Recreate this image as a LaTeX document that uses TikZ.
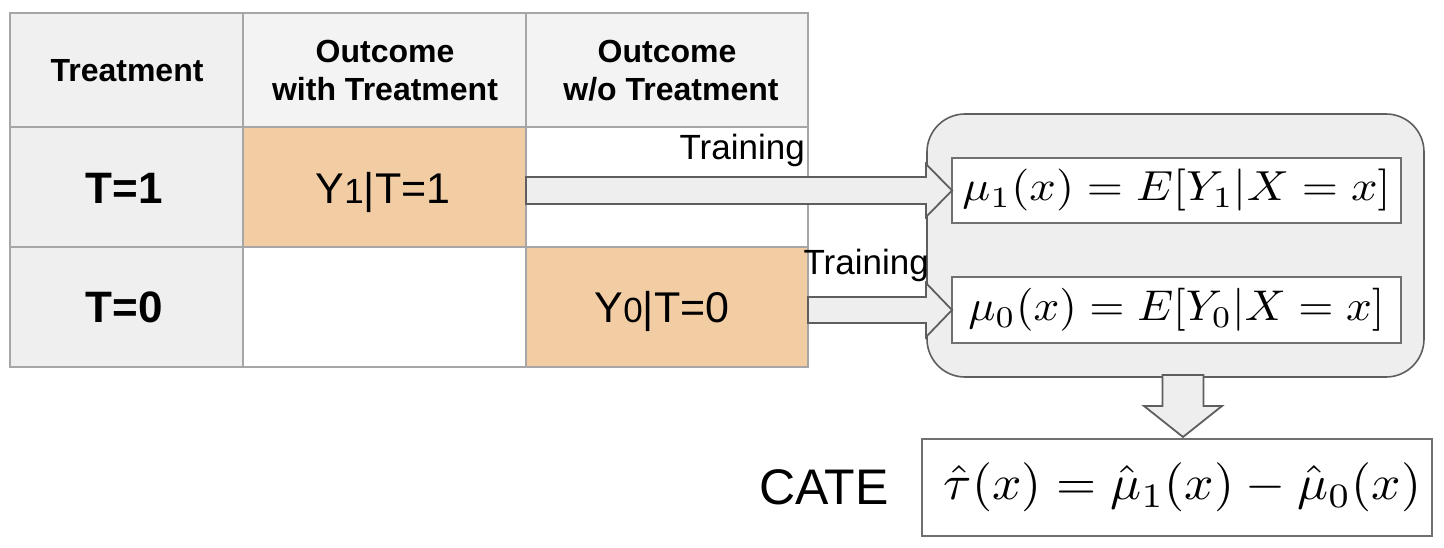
\documentclass[tikz,border=0pt]{standalone}
\usepackage{fontspec}
\setmainfont{Liberation Sans}
\usepackage{graphicx}
\usetikzlibrary{calc}
\definecolor{gridc}{HTML}{A6A6A6}
\definecolor{hdrA}{HTML}{F0F0F0}
\definecolor{hdrB}{HTML}{F3F3F3}
\definecolor{colA}{HTML}{EFEFEF}
\definecolor{orng}{HTML}{F2CDA4}
\definecolor{boxfill}{HTML}{EEEEEE}
\definecolor{boxline}{HTML}{5E5E5E}
\definecolor{eqline}{HTML}{707070}
\tikzset{
  cell/.style={draw=gridc, line width=2pt, inner sep=0pt, outer sep=0pt},
  hdrtxt/.style={font=\fontsize{32}{38}\selectfont\bfseries, inner sep=0pt, anchor=base},
  rowtxt/.style={font=\fontsize{44}{50}\selectfont\bfseries, inner sep=0pt, anchor=base},
  celltxt/.style={font=\fontsize{43}{50}\selectfont, inner sep=0pt, anchor=base},
  lab/.style={font=\fontsize{35}{40}\selectfont, inner sep=0pt},
  container/.style={draw=boxline, fill=boxfill, line width=1.6pt, rounded corners=38pt, inner sep=0pt, outer sep=0pt},
  eqbox/.style={draw=eqline, fill=white, line width=2pt, inner sep=0pt, outer sep=0pt},
  blockarrow/.style={draw=boxline, fill=boxfill, line width=1.8pt, line join=miter},
}
\newcommand{\smallsub}[1]{{\fontsize{35}{40}\selectfont #1}}
\begin{document}
\begin{tikzpicture}[x=1pt,y=-1pt]
\useasboundingbox (0,0) rectangle (1444,548);

% ---- table cells ----
\node[cell, fill=hdrA, minimum width=233, minimum height=114] (h1) at (126.5,70) {};
\node[cell, fill=hdrB, minimum width=283, minimum height=114] (h2) at (384.5,70) {};
\node[cell, fill=hdrB, minimum width=282, minimum height=114] (h3) at (667,70) {};
\node[cell, fill=colA, minimum width=233, minimum height=120] (r1c1) at (126.5,187) {};
\node[cell, fill=orng, minimum width=283, minimum height=120] (r1c2) at (384.5,187) {};
\node[cell, fill=white, minimum width=282, minimum height=120] (r1c3) at (667,187) {};
\node[cell, fill=colA, minimum width=233, minimum height=120] (r2c1) at (126.5,307) {};
\node[cell, fill=white, minimum width=283, minimum height=120] (r2c2) at (384.5,307) {};
\node[cell, fill=orng, minimum width=282, minimum height=120] (r2c3) at (667,307) {};

% ---- table texts ----
\node[hdrtxt] (th1) at (127,82) {Treatment};
\node[hdrtxt] (th2a) at (385,63) {Outcome};
\node[hdrtxt] (th2b) at (385,101) {with Treatment};
\node[hdrtxt] (th3a) at (667,63) {Outcome};
\node[hdrtxt] (th3b) at (671,101) {w/o Treatment};
\node[rowtxt] (tr1c1) at (124,204) {T=1};
\node[rowtxt] (tr2c1) at (124,323) {T=0};
\node[celltxt] (tr1c2) at (383,204) {Y\smallsub{1}|T=1};
\node[celltxt] (tr2c3) at (662,323) {Y\smallsub{0}|T=0};

% ---- container with models ----
\node[container, minimum width=497, minimum height=263] (cont) at (1175.5,245.5) {};
\node[eqbox, minimum width=449, minimum height=65] (mu1) at (1176.5,190.5)
  {\resizebox*{428pt}{42pt}{$\mu_1(x) = E[Y_1|X = x]$}};
\node[eqbox, minimum width=449, minimum height=66] (mu0) at (1176.5,310)
  {\resizebox*{416pt}{43pt}{$\mu_0(x) = E[Y_0|X = x]$}};

% ---- training arrows ----
\draw[blockarrow] let \p1=(mu1.west), \p2=(r1c2.east) in
  (\x2,\y1+13.5pt) -- (\x1-26pt,\y1+13.5pt) -- (\x1-26pt,\y1+26.5pt) -- (\x1,\y1)
  -- (\x1-26pt,\y1-26.5pt) -- (\x1-26pt,\y1-13.5pt) -- (\x2,\y1-13.5pt) -- cycle;
\draw[blockarrow] let \p1=(mu0.west), \p2=(r2c3.east) in
  (\x2,\y1+13pt) -- (\x1-26pt,\y1+13pt) -- (\x1-26pt,\y1+27pt) -- (\x1,\y1)
  -- (\x1-26pt,\y1-27pt) -- (\x1-26pt,\y1-13pt) -- (\x2,\y1-13pt) -- cycle;

\node[lab, anchor=base east] (train1) at (805,160) {Training};
\node[lab, anchor=base east] (train0) at (929,275) {Training};

% ---- CATE ----
\node[eqbox, minimum width=510, minimum height=97] (cate) at (1177,487.5)
  {\hspace*{11pt}\resizebox*{477pt}{49pt}{$\hat{\tau}(x) = \hat{\mu}_1(x) - \hat{\mu}_0(x)$}};
\node[inner sep=0pt, anchor=base east, font=\fontsize{50}{56}\selectfont] (catelab) at (889,504) {CATE};

% ---- down arrow ----
\coordinate (dtop) at (1183,375);
\coordinate (dtip) at (1183,437);
\draw[blockarrow] let \p1=(dtop), \p2=(dtip) in
  (\x1-20.5pt,\y1) -- (\x1+20.5pt,\y1) -- (\x1+20.5pt,\y2+31pt) -- (\x1+39pt,\y2+31pt)
  -- (\x2,\y2) -- (\x1-39pt,\y2+31pt) -- (\x1-20.5pt,\y2+31pt) -- cycle;
\end{tikzpicture}
\end{document}
